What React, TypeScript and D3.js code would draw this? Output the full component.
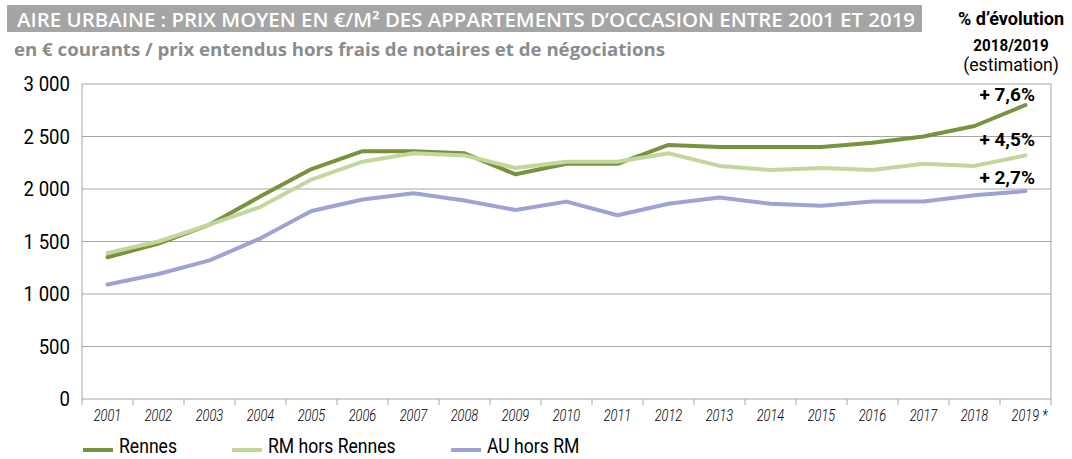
import React from "react";
import * as d3 from "d3";

const years = ["2001","2002","2003","2004","2005","2006","2007","2008","2009","2010","2011","2012","2013","2014","2015","2016","2017","2018","2019"];
const yearLabels = ["2001","2002","2003","2004","2005","2006","2007","2008","2009","2010","2011","2012","2013","2014","2015","2016","2017","2018","2019 *"];
const rennes = [1350,1480,1660,1930,2190,2360,2360,2340,2140,2240,2240,2420,2400,2400,2400,2440,2500,2600,2800];
const rmHorsRennes = [1390,1500,1660,1830,2090,2260,2340,2320,2200,2260,2260,2340,2220,2180,2200,2180,2240,2220,2320];
const auHorsRm = [1090,1190,1320,1530,1790,1900,1960,1890,1800,1880,1750,1860,1920,1860,1840,1880,1880,1940,1980];
const seriesNames = ["Rennes", "RM hors Rennes", "AU hors RM"];
const evolutionLabels = ["+ 7,6%", "+ 4,5%", "+ 2,7%"];
const yTicks = [0, 500, 1000, 1500, 2000, 2500, 3000];
const yTickLabels = ["0", "500", "1 000", "1 500", "2 000", "2 500", "3 000"];

const COLORS = ["#77933C", "#C3D69B", "#A0A2D3"];
const FONT = "Roboto, 'Liberation Sans', sans-serif";
const TITLE_FONT = "'Open Sans', 'Noto Sans', sans-serif";

function CText(props: {
  x: number; y: number; sx?: number; size: number; weight?: number; italic?: boolean;
  anchor?: "start" | "middle" | "end"; fill?: string; children: React.ReactNode;
}) {
  const { x, y, sx = 1, size, weight = 400, italic = false, anchor = "start", fill = "#000", children } = props;
  return (
    <text transform={`translate(${x},${y}) scale(${sx},1)`} fontFamily={FONT} fontSize={size}
      fontWeight={weight} fontStyle={italic ? "italic" : "normal"} textAnchor={anchor} fill={fill}>
      {children}
    </text>
  );
}

export default function App() {
  const W = 1072, H = 459;
  const x = d3.scaleBand<string>().domain(years).range([82, 1051]).paddingInner(0).paddingOuter(0);
  const y = d3.scaleLinear().domain([0, 3000]).range([399, 84]);
  const bw = x.bandwidth();
  const cx = (i: number) => (x(years[i]) as number) + bw / 2;
  const line = d3.line<number>().x((_, i) => cx(i)).y((v) => y(v));
  const allSeries = [rennes, rmHorsRennes, auHorsRm];
  const lastIdx = years.length - 1;
  const labelYs = [101, 146, 184];
  const legendX = [83, 232, 451];

  return (
    <svg width={W} height={H} style={{ position: "absolute", left: 0, top: 0, background: "#fff" }}>
      {/* Header */}
      <rect x={7} y={5} width={915} height={27} fill="#A5A5A5" />
      <text x={17} y={27} fill="#fff" fontFamily={TITLE_FONT} fontWeight={600} fontSize={19}
        textLength={898} lengthAdjust="spacingAndGlyphs">
        AIRE URBAINE : PRIX MOYEN EN €/M² DES APPARTEMENTS D’OCCASION ENTRE 2001 ET 2019
      </text>
      <text x={14} y={56} fill="#8C8C8C" fontFamily={TITLE_FONT} fontWeight={700} fontSize={17}
        textLength={651} lengthAdjust="spacingAndGlyphs">
        en € courants / prix entendus hors frais de notaires et de négociations
      </text>

      <CText x={1011} y={25} size={19} weight={700} sx={0.95} anchor="middle">% d’évolution</CText>
      <CText x={1011} y={51} size={16} weight={700} sx={0.95} anchor="middle">2018/2019</CText>
      <CText x={1011} y={71} size={19} sx={0.93} anchor="middle">(estimation)</CText>

      {/* Gridlines */}
      <g>
        {yTicks.map((t) => (
          <line key={t} x1={82} x2={1051} y1={y(t)} y2={y(t)} stroke="#A6A6A6" strokeWidth={1} />
        ))}
        <line x1={82} x2={82} y1={y(3000)} y2={y(0)} stroke="#A6A6A6" />
        <line x1={1051} x2={1051} y1={y(3000)} y2={y(0)} stroke="#A6A6A6" />
        {years.map((yr) => (
          <line key={yr} x1={x(yr) as number} x2={x(yr) as number} y1={y(0)} y2={y(0) + 6} stroke="#A6A6A6" />
        ))}
        <line x1={1051} x2={1051} y1={y(0)} y2={y(0) + 6} stroke="#A6A6A6" />
      </g>

      {/* Y labels */}
      {yTicks.map((t, i) => (
        <CText key={t} x={70} y={y(t) + 7} size={20} sx={0.93} anchor="end">{yTickLabels[i]}</CText>
      ))}

      {/* X labels */}
      {years.map((yr, i) => (
        <CText key={yr} x={cx(i) + (i === lastIdx ? 4 : 0)} y={421} size={16} sx={0.8} weight={300} italic anchor="middle">
          {yearLabels[i]}
        </CText>
      ))}

      {/* Lines */}
      {allSeries.map((s, k) => (
        <path key={k} d={line(s) as string} fill="none" stroke={COLORS[k]} strokeWidth={4}
          strokeLinejoin="round" strokeLinecap="round" />
      ))}

      {/* Evolution labels */}
      {evolutionLabels.map((l, k) => (
        <CText key={l} x={1035} y={labelYs[k]} size={19} weight={700} anchor="end">{l}</CText>
      ))}

      {/* Legend */}
      {seriesNames.map((n, k) => (
        <g key={n}>
          <line x1={legendX[k]} x2={legendX[k] + 30} y1={450} y2={450} stroke={COLORS[k]} strokeWidth={4} />
          <CText x={legendX[k] + 36} y={453} size={20} sx={0.88}>{n}</CText>
        </g>
      ))}
    </svg>
  );
}
